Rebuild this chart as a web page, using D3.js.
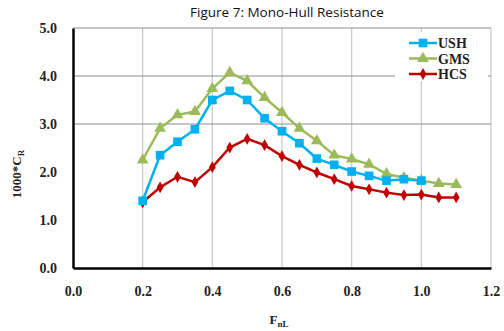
<!DOCTYPE html>
<html>
<head>
<meta charset="utf-8">
<script src="https://cdn.jsdelivr.net/npm/d3@7"></script>
<style>
  body { margin: 0; background: #fff; }
  svg { display: block; }
</style>
</head>
<body>
<svg id="chart" width="504" height="331"></svg>
<script>
// speed values (Froude number based on length)
const fnl = [0.2, 0.25, 0.3, 0.35, 0.4, 0.45, 0.5, 0.55, 0.6, 0.65, 0.7, 0.75, 0.8, 0.85, 0.9, 0.95, 1.0, 1.05, 1.1];
const ush = [1.40, 2.35, 2.63, 2.89, 3.50, 3.69, 3.50, 3.12, 2.85, 2.60, 2.28, 2.15, 2.01, 1.92, 1.82, 1.85, 1.82];
const gms = [2.25, 2.91, 3.19, 3.26, 3.74, 4.07, 3.90, 3.55, 3.24, 2.91, 2.65, 2.35, 2.27, 2.16, 1.96, 1.88, 1.82, 1.76, 1.74];
const hcs = [1.37, 1.68, 1.90, 1.79, 2.10, 2.51, 2.69, 2.56, 2.33, 2.15, 1.99, 1.85, 1.71, 1.64, 1.57, 1.52, 1.53, 1.47, 1.47];
const xTicks = [0, 0.2, 0.4, 0.6, 0.8, 1.0, 1.2];
const yTicks = [0, 1, 2, 3, 4, 5];
const yGrid = [3, 4, 5];

const svg = d3.select('#chart');
const margin = { top: 28, right: 13, bottom: 63, left: 73 };
const width = 504 - margin.left - margin.right;
const height = 331 - margin.top - margin.bottom;

const x = d3.scaleLinear().domain([0, 1.2]).range([0, width]);
const y = d3.scaleLinear().domain([0, 5]).range([height, 0]);

const g = svg.append('g').attr('transform', `translate(${margin.left},${margin.top})`);

svg.append('text')
    .attr('x', 287).attr('y', 17)
    .attr('text-anchor', 'middle')
    .attr('font-family', 'Open Sans, sans-serif')
    .attr('font-size', 13.5)
    .attr('fill', '#111')
    .text('Figure 7: Mono-Hull Resistance');

// grid
g.selectAll('.vgrid').data(xTicks.slice(1)).join('line')
    .attr('x1', d => x(d)).attr('x2', d => x(d))
    .attr('y1', 0).attr('y2', height)
    .attr('stroke', '#c8c8c8').attr('stroke-width', 1.2);
g.selectAll('.hgrid').data(yGrid).join('line')
    .attr('x1', 0).attr('x2', width)
    .attr('y1', d => y(d)).attr('y2', d => y(d))
    .attr('stroke', '#8c8c8c').attr('stroke-width', 1);

// axes
const xAxis = g.append('g').attr('transform', `translate(0,${height})`)
    .call(d3.axisBottom(x).tickValues(xTicks).tickFormat(d3.format('.1f')).tickSize(0).tickPadding(18));
const yAxis = g.append('g')
    .call(d3.axisLeft(y).tickValues(yTicks).tickFormat(d3.format('.1f')).tickSize(0).tickPadding(16));
[xAxis, yAxis].forEach(a => {
    a.select('.domain').attr('stroke', '#000').attr('stroke-width', 2.5);
    a.selectAll('text')
        .attr('font-family', 'Liberation Serif, serif')
        .attr('font-weight', 'bold')
        .attr('font-size', 14)
        .attr('fill', '#222');
});

// axis titles
const yt = svg.append('text')
    .attr('transform', 'translate(21,174) rotate(-90)')
    .attr('text-anchor', 'middle')
    .attr('font-family', 'Liberation Serif, serif')
    .attr('font-weight', 'bold')
    .attr('font-size', 13)
    .attr('fill', '#222');
yt.append('tspan').text('1000*C');
yt.append('tspan').attr('font-size', 9).attr('dy', 3).text('R');

const xt = svg.append('text')
    .attr('x', 279).attr('y', 324)
    .attr('text-anchor', 'middle')
    .attr('font-family', 'Liberation Serif, serif')
    .attr('font-weight', 'bold')
    .attr('font-size', 13)
    .attr('fill', '#222');
xt.append('tspan').text('F');
xt.append('tspan').attr('font-size', 9).attr('dy', 3).text('nL');

const series = [
    { name: 'USH', values: ush, color: '#00b0f0', shape: d3.symbolSquare, size: 75 },
    { name: 'GMS', values: gms, color: '#9bbb59', shape: d3.symbolTriangle, size: 60 },
    { name: 'HCS', values: hcs, color: '#c00000', shape: d3.symbolDiamond, size: 40 }
];

const line = d3.line().x(d => x(d[0])).y(d => y(d[1]));

// draw HCS first, USH on top of GMS like the original
[series[2], series[1], series[0]].forEach(s => {
    const pts = s.values.map((v, i) => [fnl[i], v]);
    g.append('path').datum(pts)
        .attr('fill', 'none').attr('stroke', s.color).attr('stroke-width', 2.5)
        .attr('d', line);
    g.selectAll(null).data(pts).join('path')
        .attr('transform', d => `translate(${x(d[0])},${y(d[1])})`)
        .attr('d', d3.symbol().type(s.shape).size(s.size))
        .attr('fill', s.color);
});

// legend
const lg = svg.append('g').attr('transform', 'translate(395,32)');
lg.append('rect').attr('width', 93).attr('height', 49).attr('fill', '#fff');
series.forEach((s, i) => {
    const row = lg.append('g').attr('transform', `translate(0,${11 + i * 15.5})`);
    row.append('line').attr('x1', 14).attr('x2', 42).attr('stroke', s.color).attr('stroke-width', 2.5);
    row.append('path').attr('transform', 'translate(28,0)')
        .attr('d', d3.symbol().type(s.shape).size(s.size)).attr('fill', s.color);
    row.append('text').attr('x', 43).attr('y', 5)
        .attr('font-family', 'Liberation Serif, serif')
        .attr('font-weight', 'bold')
        .attr('font-size', 14)
        .attr('fill', '#222')
        .text(s.name);
});
</script>
</body>
</html>
